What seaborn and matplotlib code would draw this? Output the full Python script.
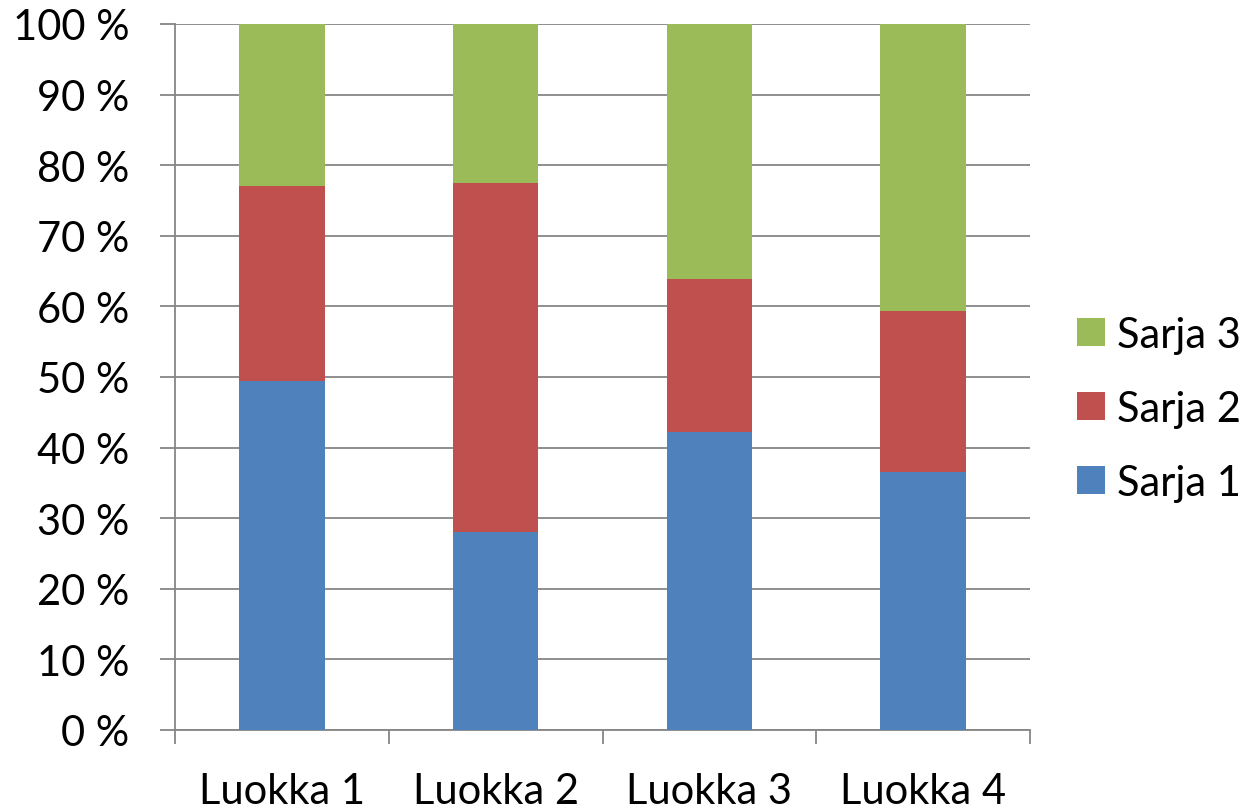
import numpy as np
import pandas as pd
import matplotlib
matplotlib.use("Agg")
import matplotlib.pyplot as plt
import seaborn as sns
from matplotlib.ticker import FuncFormatter, FixedLocator

categories = ['Luokka 1', 'Luokka 2', 'Luokka 3', 'Luokka 4']
sarja1 = [49.4, 28.1, 42.2, 36.6]   # % of total
sarja2 = [27.6, 49.4, 21.7, 22.8]
sarja3 = [23.0, 22.5, 36.1, 40.6]
colors = {'Sarja 1': '#4F81BD', 'Sarja 2': '#C0504D', 'Sarja 3': '#9BBB59'}

sns.set_style("white")
plt.rcParams['font.family'] = ['Lato', 'DejaVu Sans']
plt.rcParams['text.color'] = 'black'

df = pd.DataFrame({'cat': categories, 's1': sarja1, 's2': sarja2, 's3': sarja3})
df['top3'] = df['s1'] + df['s2'] + df['s3']
df['top2'] = df['s1'] + df['s2']

fig = plt.figure(figsize=(12.52, 8.12), dpi=100)
ax = fig.add_axes([175 / 1252, 1 - 731 / 812, (1030 - 175) / 1252, (731 - 25) / 812])

# stacked bars drawn from the top layer down
for col, name in [('top3', 'Sarja 3'), ('top2', 'Sarja 2'), ('s1', 'Sarja 1')]:
    sns.barplot(data=df, x='cat', y=col, color=colors[name], width=0.4,
                saturation=1, ax=ax, label=name, zorder=3, linewidth=0)

ax.set_xlim(-0.5, 3.5)
ax.set_ylim(0, 100)
ax.set_xlabel('')
ax.set_ylabel('')

grid_c = '#868686'
ax.set_yticks(np.arange(0, 101, 10))
ax.yaxis.set_major_formatter(FuncFormatter(lambda v, p: f"{int(v)} %"))
ax.yaxis.grid(True, color=grid_c, linewidth=1.3, zorder=0)
ax.set_axisbelow(True)
ax.tick_params(axis='y', length=10.8, width=1.3, color=grid_c, labelsize=30,
               labelcolor='black', pad=22, left=True)

ax.xaxis.set_minor_locator(FixedLocator([-0.5, 0.5, 1.5, 2.5, 3.5]))
ax.tick_params(axis='x', which='major', length=0, labelsize=30, labelcolor='black', pad=30)
ax.tick_params(axis='x', which='minor', length=10, width=1.3, color=grid_c, bottom=True)

for side in ['top', 'right']:
    ax.spines[side].set_visible(False)
for side in ['left', 'bottom']:
    ax.spines[side].set_color(grid_c)
    ax.spines[side].set_linewidth(1.3)

leg = ax.legend(loc='center left', bbox_to_anchor=(1.036, 0.455), frameon=False,
                fontsize=30, handlelength=0.65, handleheight=0.65, handletextpad=0.3,
                labelspacing=0.86, borderaxespad=0)

fig.savefig('out.png', dpi=100)
